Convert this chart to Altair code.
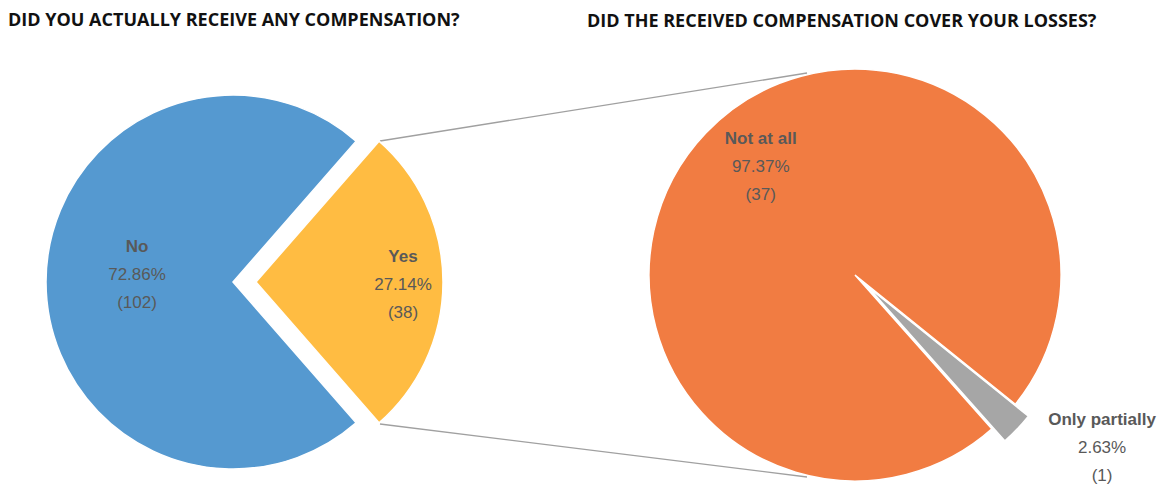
import altair as alt
import pandas as pd
import math

# ---- data ----
left_cats = ["Yes", "No"]
left_vals = [38, 102]
left_pcts = ["27.14%", "72.86%"]
left_colors = ["#FFBC42", "#5599D0"]

right_cats = ["Only partially", "Not at all"]
right_vals = [1, 37]
right_pcts = ["2.63%", "97.37%"]
right_colors = ["#A6A6A6", "#F17C42"]

title_left = "DID YOU ACTUALLY RECEIVE ANY COMPENSATION?"
title_right = "DID THE RECEIVED COMPENSATION COVER YOUR LOSSES?"

W, H = 1151, 477
LABEL_COLOR = "#595959"
LINE = 28


def build_df(cats, vals, pcts):
    rows = []
    cum = 0
    for i, (c, v, p) in enumerate(zip(cats, vals, pcts)):
        rows.append({"cat": c, "value": v, "pct": p, "count": f"({v})",
                     "start": cum, "end": cum + v, "mid": cum + v / 2, "order": i})
        cum += v
    return pd.DataFrame(rows)


dfl = build_df(left_cats, left_vals, left_pcts)
dfr = build_df(right_cats, right_vals, right_pcts)

# start angles (clockwise from 12 o'clock)
left_start = math.radians(90 - 360 * left_vals[0] / sum(left_vals) / 2)
right_start = math.radians(133.6 - 360 * right_vals[0] / sum(right_vals) / 2)


def theta_scale(total, start):
    return alt.Scale(domain=[0, total], range=[start, start + 2 * math.pi])


def pie_layers(df, cats, colors, total, start, centers, radius, label_specs):
    layers = []
    tsc = theta_scale(total, start)
    csc = alt.Scale(domain=cats, range=colors)
    for cat in cats:
        cx, cy = centers[cat]
        base = alt.Chart(df).transform_filter(alt.datum.cat == cat)
        arc = base.mark_arc(radius=radius, stroke="white", strokeWidth=1.5).encode(
            theta=alt.Theta("start:Q", scale=tsc),
            theta2="end:Q",
            color=alt.Color("cat:N", scale=csc, legend=None),
            x=alt.value(cx), y=alt.value(cy),
        )
        layers.append(arc)
        lr, ldx, ldy = label_specs[cat]
        for field, dy, weight in [("cat", -LINE, "bold"), ("pct", 0, "normal"), ("count", LINE, "normal")]:
            t = base.mark_text(radius=lr, fontSize=17, font="Liberation Sans", fontWeight=weight,
                               color=LABEL_COLOR, dx=ldx, dy=ldy + dy,
                               align="center", baseline="middle").encode(
                theta=alt.Theta("mid:Q", scale=tsc),
                text=f"{field}:N",
                x=alt.value(cx), y=alt.value(cy),
            )
            layers.append(t)
    return layers


left_layers = pie_layers(
    dfl, left_cats, left_colors, sum(left_vals), left_start,
    {"No": (225, 274), "Yes": (248, 274)}, 187,
    {"No": (96, 0, -7), "Yes": (147, 0, 3)},
)
right_layers = pie_layers(
    dfr, right_cats, right_colors, sum(right_vals), right_start,
    {"Not at all": (847, 267), "Only partially": (860, 279)}, 206,
    {"Not at all": (144, 10, -9), "Only partially": (250, 53, -11)},
)

one = pd.DataFrame({"k": [0]})
connectors = [
    alt.Chart(one).mark_rule(color="#A0A0A0", strokeWidth=1.4).encode(
        x=alt.value(372), y=alt.value(133), x2=alt.value(799), y2=alt.value(65)),
    alt.Chart(one).mark_rule(color="#A0A0A0", strokeWidth=1.4).encode(
        x=alt.value(372), y=alt.value(416), x2=alt.value(799), y2=alt.value(469)),
]

titles = [
    alt.Chart(one).mark_text(text=title_left, font="Open Sans", fontWeight="bold", fontSize=18,
                             color="#111111", align="left", baseline="alphabetic").encode(
        x=alt.value(0), y=alt.value(18)),
    alt.Chart(one).mark_text(text=title_right, font="Open Sans", fontWeight="bold", fontSize=18,
                             color="#111111", align="left", baseline="alphabetic").encode(
        x=alt.value(579), y=alt.value(19)),
]

chart = alt.layer(*connectors, *left_layers, *right_layers, *titles).resolve_scale(
    theta="independent", color="independent"
).properties(
    width=W, height=H, padding=0, autosize=alt.AutoSizeParams(type="none")
).configure_view(stroke=None)

chart.save("out.html", embed_options={"renderer": "svg", "actions": False})
